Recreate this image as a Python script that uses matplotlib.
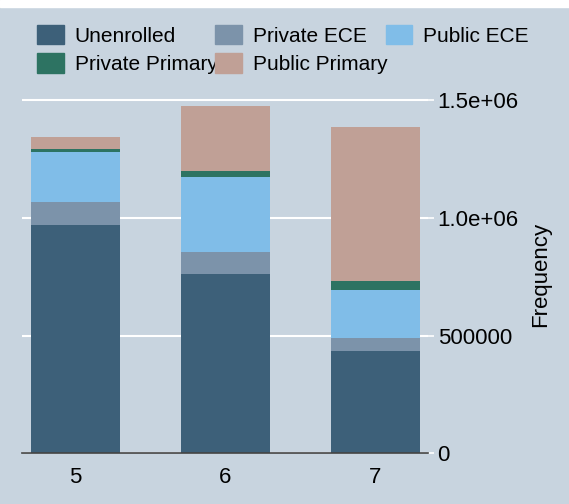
import matplotlib.pyplot as plt
from matplotlib.patches import Patch

plt.rcParams['font.family'] = ['Liberation Sans', 'DejaVu Sans']

# ages on the x axis
ages = [5, 6, 7]
categories = ['Unenrolled', 'Private ECE', 'Public ECE', 'Private Primary', 'Public Primary']

# stacked counts per age
unenrolled = [969000, 763000, 436000]
private_ece = [99000, 93000, 52000]
public_ece = [210000, 316000, 205000]
private_primary = [14000, 27000, 39000]
public_primary = [50000, 277000, 652000]

series = [unenrolled, private_ece, public_ece, private_primary, public_primary]
colors = ['#3d6079', '#7c93aa', '#80bde8', '#2d7362', '#c0a096']
bg = '#c8d4df'
fs = 16

fig = plt.figure(figsize=(5.69, 5.04), dpi=100, facecolor=bg)
ax = fig.add_axes([0.0387, 0.1006, 0.7133, 0.7109])
ax.set_facecolor(bg)

bottom = [0, 0, 0]
for vals, col in zip(series, colors):
    ax.bar(ages, vals, width=0.593, bottom=bottom, color=col, zorder=3)
    bottom = [b + v for b, v in zip(bottom, vals)]

ax.set_xlim(4.643, 7.35)
ax.set_ylim(0, 1.5214e6)
ax.set_xticks(ages)
ax.set_yticks([0, 500000, 1000000, 1500000])
ax.set_yticklabels(['0', '500000', '1.0e+06', '1.5e+06'])
ax.yaxis.tick_right()
ax.yaxis.set_label_position('right')
ax.set_ylabel('Frequency', fontsize=fs, labelpad=8)
ax.tick_params(axis='y', length=4, color='white', width=1.2, labelsize=fs, pad=3)
ax.tick_params(axis='x', length=0, labelsize=fs, pad=10)
ax.grid(axis='y', color='white', linewidth=1.5, zorder=0)
for s in ['top', 'right', 'left']:
    ax.spines[s].set_visible(False)
ax.spines['bottom'].set_color('#444444')
ax.spines['bottom'].set_linewidth(1.2)
ax.spines['bottom'].set_zorder(4)

# legend fills column-wise, so reorder to get rows as in the original
order = [0, 3, 1, 4, 2]
handles = [Patch(facecolor=colors[i], edgecolor=colors[i]) for i in order]
labels = [categories[i] for i in order]
fig.legend(handles, labels, ncol=3, loc='upper left',
           bbox_to_anchor=(0.065, 0.951), frameon=False, fontsize=15,
           handlelength=1.28, handleheight=1.07, handletextpad=0.53,
           columnspacing=-0.1, labelspacing=0.37, borderpad=0,
           borderaxespad=0)

# thin white strip at the top edge
fig.patches.append(plt.Rectangle((0, 0.986), 1, 0.014, transform=fig.transFigure,
                                 color='white', zorder=10))

fig.savefig('out.png', dpi=100, facecolor=bg)
